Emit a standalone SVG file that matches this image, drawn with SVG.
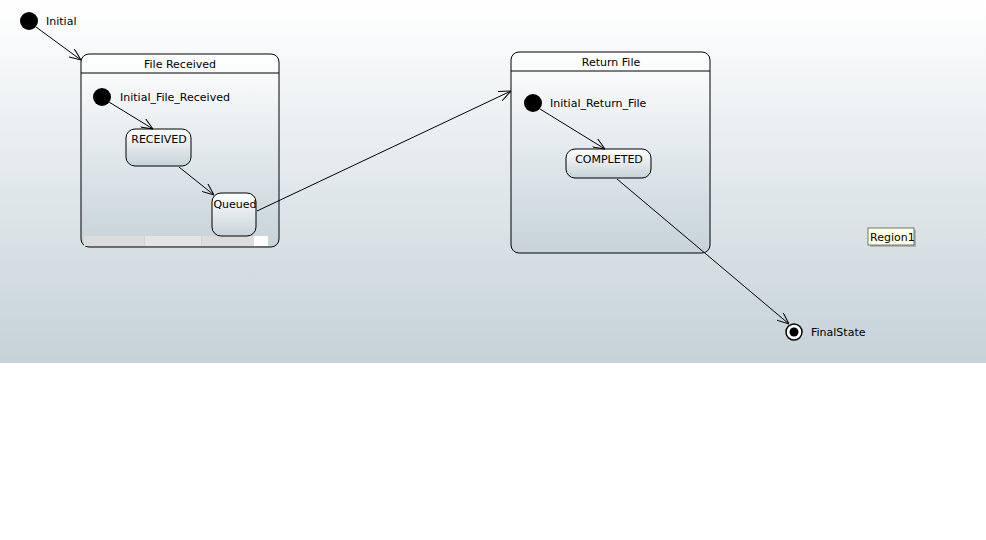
<svg xmlns="http://www.w3.org/2000/svg" width="986" height="540" viewBox="0 0 986 540">
<defs>
<linearGradient id="bg" x1="0" y1="0" x2="0" y2="1"><stop offset="0" stop-color="#ffffff"/><stop offset="1" stop-color="#c5d2d8"/></linearGradient>
<linearGradient id="st" x1="0" y1="0" x2="0" y2="1"><stop offset="0" stop-color="#ffffff"/><stop offset="1" stop-color="#c6d3d9"/></linearGradient>
<marker id="arr" viewBox="0 0 12 10" refX="12" refY="5" markerWidth="12" markerHeight="10" markerUnits="userSpaceOnUse" orient="auto"><path d="M0,0 L12,5 L0,10" fill="none" stroke="#000" stroke-width="1"/></marker>
</defs>
<style>
text{font-family:"DejaVu Sans","Liberation Sans",sans-serif;font-size:11px;fill:#000}
.box{fill:url(#st);stroke:#000;stroke-width:1}
.c{text-anchor:middle}
.edge{fill:none;stroke:#000;stroke-width:1;marker-end:url(#arr)}
</style>
<rect x="0" y="0" width="986" height="363" fill="url(#bg)"/>
<g id="initial"><circle cx="29" cy="21" r="9" fill="#000"/><text x="46" y="25">Initial</text></g>
<g id="file_received">
<rect class="box" x="81" y="54" width="198" height="193" rx="8"/>
<path d="M81,73 H279" stroke="#000"/>
<rect x="82" y="74" width="196" height="0" fill="#fff"/>
<text class="c" x="180" y="68">File Received</text>
<rect x="84" y="236" width="60" height="10" fill="#dcdcdc"/><rect x="145" y="236" width="56" height="10" fill="#e4e4e4"/><rect x="202" y="236" width="52" height="10" fill="#dcdcdc"/><rect x="254" y="236" width="14" height="10" fill="#fff"/>
</g>
<g id="initial_file_received"><circle cx="102" cy="97" r="9" fill="#000"/><text x="120" y="101">Initial_File_Received</text></g>
<g id="received"><rect class="box" x="126" y="129" width="65" height="37" rx="9"/><text class="c" x="159" y="143">RECEIVED</text></g>
<g id="queued"><rect class="box" x="212" y="193" width="44" height="43" rx="9"/><text class="c" x="235" y="208">Queued</text></g>
<g id="return_file">
<rect class="box" x="511" y="52" width="199" height="201" rx="8"/>
<path d="M511,71 H710" stroke="#000"/>
<text class="c" x="611" y="66">Return File</text>
</g>
<g id="initial_return_file"><circle cx="533" cy="103" r="9" fill="#000"/><text x="550" y="107">Initial_Return_File</text></g>
<g id="completed"><rect class="box" x="566" y="149" width="85" height="29" rx="9"/><text class="c" x="609" y="163">COMPLETED</text></g>
<g id="final"><circle cx="794" cy="332" r="8" fill="#fff" stroke="#000" stroke-width="1.5"/><circle cx="794" cy="332" r="4.5" fill="#000"/><text x="811" y="336">FinalState</text></g>
<g id="region1"><rect x="870" y="230" width="46" height="17" fill="#8a8a8a" opacity="0.5"/><rect x="868" y="228" width="46" height="17" fill="#ffffe6" stroke="#555" stroke-width="0.8"/><text x="870" y="241">Region1</text></g>
<g id="connectors">
<line class="edge" x1="36" y1="27" x2="81" y2="60"/>
<line class="edge" x1="109" y1="102" x2="153" y2="129"/>
<line class="edge" x1="179" y1="167" x2="214" y2="195"/>
<line class="edge" x1="257" y1="211" x2="511" y2="91"/>
<line class="edge" x1="540" y1="109" x2="605" y2="149"/>
<line class="edge" x1="617" y1="179" x2="789" y2="324"/>
</g>
</svg>
